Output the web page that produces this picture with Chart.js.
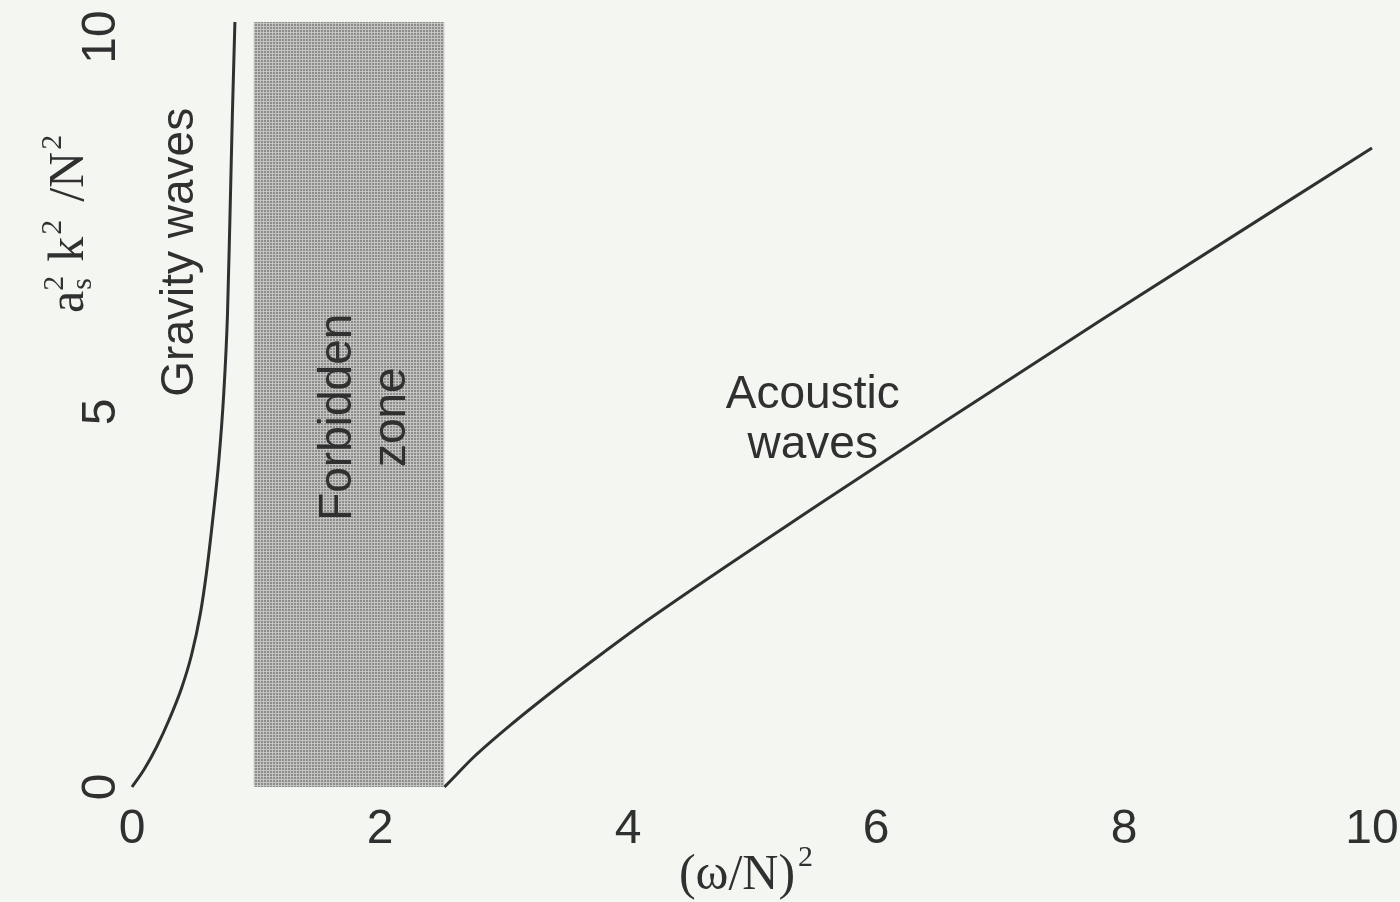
<!DOCTYPE html>
<html>
<head>
<meta charset="utf-8">
<script src="https://cdn.jsdelivr.net/npm/chart.js@4.4.0/dist/chart.umd.min.js"></script>
<style>
  html, body { margin: 0; padding: 0; background: #f4f6f2; }
  #wrap { width: 1400px; height: 902px; }
</style>
</head>
<body>
<div id="wrap"><canvas id="dispersion"></canvas></div>
<script>
// (omega/N)^2 against a_s^2 k^2 / N^2 along each branch
const gravityX = [0, 0.10, 0.20, 0.30, 0.40, 0.48, 0.55, 0.60, 0.65, 0.70, 0.74, 0.77, 0.79, 0.81, 0.83];
const gravityY = [0, 0.24, 0.54, 0.90, 1.32, 1.76, 2.30, 2.85, 3.55, 4.35, 5.25, 6.30, 7.60, 9.00, 10.2];
const acousticX = [2.52, 2.62, 2.75, 3.07, 3.48, 3.80, 4.18, 5.55, 6.57, 7.81, 10];
const acousticY = [0, 0.17, 0.39, 0.85, 1.39, 1.79, 2.25, 3.78, 4.89, 6.22, 8.52];

// band between the two branches where nothing propagates
const forbiddenX = [0.98, 2.52];
const forbiddenTop = 10.2;

const xTicks = [0, 2, 4, 6, 8, 10];
const yTicks = [0, 5, 10];

const INK = '#303030';
const SANS = '"Liberation Sans", Arial, sans-serif';
const SERIF = '"Liberation Serif", "Times New Roman", serif';

function points(xs, ys) {
    return xs.map((x, i) => ({ x: x, y: ys[i] }));
}

// dotted screen for the shaded band
function halftone() {
    const c = document.createElement('canvas');
    c.width = 3; c.height = 3;
    const g = c.getContext('2d');
    g.fillStyle = '#c4c5c2';
    g.fillRect(0, 0, 3, 3);
    g.fillStyle = '#8c8d8a';
    g.fillRect(0, 0, 2, 2);
    return g.createPattern(c, 'repeat');
}

// rotated text, reading bottom to top
function upText(ctx, text, px, py, font) {
    ctx.save();
    ctx.translate(px, py);
    ctx.rotate(-Math.PI / 2);
    ctx.font = font;
    ctx.textAlign = 'center';
    ctx.textBaseline = 'alphabetic';
    ctx.fillText(text, 0, 0);
    ctx.restore();
}

const labelPlugin = {
    id: 'figureLabels',
    afterDraw(chart) {
        const { ctx, scales: { x, y } } = chart;
        ctx.save();
        ctx.fillStyle = INK;

        upText(ctx, 'Gravity waves', x.getPixelForValue(0.49), y.getPixelForValue(7.13), '46px ' + SANS);
        upText(ctx, 'Forbidden', x.getPixelForValue(1.77), y.getPixelForValue(4.93), '46px ' + SANS);
        upText(ctx, 'zone', x.getPixelForValue(2.20), y.getPixelForValue(4.93), '46px ' + SANS);

        ctx.font = '46px ' + SANS;
        ctx.textAlign = 'center';
        ctx.textBaseline = 'alphabetic';
        ctx.fillText('Acoustic', x.getPixelForValue(5.49), y.getPixelForValue(5.05));
        ctx.fillText('waves', x.getPixelForValue(5.49), y.getPixelForValue(4.39));

        // x title: (ω/N)²
        ctx.font = '50px ' + SERIF;
        ctx.textAlign = 'left';
        const base = '(\u03c9/N)';
        const w = ctx.measureText(base).width;
        const x0 = 737 - w / 2;
        ctx.fillText(base, x0, 889);
        ctx.font = '30px ' + SERIF;
        ctx.fillText('2', x0 + w + 3, 866);

        // y title: a_s² k² /N², rotated
        ctx.save();
        ctx.translate(83, 313);
        ctx.rotate(-Math.PI / 2);
        ctx.textAlign = 'left';
        let cx = 0;
        const main = '50px ' + SERIF, small = '30px ' + SERIF;
        ctx.font = main; ctx.fillText('a', cx, 0); cx += ctx.measureText('a').width;
        ctx.font = small; ctx.fillText('2', cx, -20); ctx.fillText('s', cx + 1, 8); cx += ctx.measureText('2').width + 14;
        ctx.font = main; ctx.fillText('k', cx, 0); cx += ctx.measureText('k').width;
        ctx.font = small; ctx.fillText('2', cx + 2, -22); cx += ctx.measureText('2').width + 20;
        ctx.font = main; ctx.fillText('/N', cx, 0); cx += ctx.measureText('/N').width;
        ctx.font = small; ctx.fillText('2', cx + 2, -22);
        ctx.restore();

        ctx.restore();
    }
};

const ctx = document.getElementById('dispersion').getContext('2d');
new Chart(ctx, {
    type: 'line',
    data: {
        datasets: [
            {
                label: 'Forbidden zone',
                data: points(forbiddenX, [forbiddenTop, forbiddenTop]),
                borderWidth: 0,
                pointRadius: 0,
                fill: 'origin',
                backgroundColor: halftone(),
                order: 3
            },
            {
                label: 'Gravity waves',
                data: points(gravityX, gravityY),
                borderColor: INK,
                borderWidth: 3,
                pointRadius: 0,
                cubicInterpolationMode: 'monotone',
                fill: false,
                clip: false,
                order: 1
            },
            {
                label: 'Acoustic waves',
                data: points(acousticX, acousticY),
                borderColor: INK,
                borderWidth: 3,
                pointRadius: 0,
                cubicInterpolationMode: 'monotone',
                fill: false,
                clip: false,
                order: 1
            }
        ]
    },
    options: {
        responsive: true,
        maintainAspectRatio: false,
        animation: false,
        layout: { padding: { top: 22, right: 28, left: 0, bottom: 0 } },
        plugins: { legend: { display: false }, tooltip: { enabled: false } },
        scales: {
            x: {
                type: 'linear',
                min: 0,
                max: 10,
                border: { display: false },
                grid: { display: false, drawTicks: false },
                ticks: { color: INK, font: { family: SANS, size: 48 }, padding: 14 },
                afterBuildTicks: s => { s.ticks = xTicks.map(v => ({ value: v })); },
                afterFit: s => { s.height = 115; s.paddingLeft = 0; s.paddingRight = 0; }
            },
            y: {
                min: 0,
                max: forbiddenTop,
                border: { display: false },
                grid: { display: false, drawTicks: false },
                ticks: { color: INK, font: { family: SANS, size: 48 }, padding: 4, minRotation: 90, maxRotation: 90, crossAlign: 'center' },
                afterBuildTicks: s => { s.ticks = yTicks.map(v => ({ value: v })); },
                afterFit: s => { s.width = 132; s.paddingTop = 0; s.paddingBottom = 0; }
            }
        }
    },
    plugins: [labelPlugin]
});
</script>
</body>
</html>
